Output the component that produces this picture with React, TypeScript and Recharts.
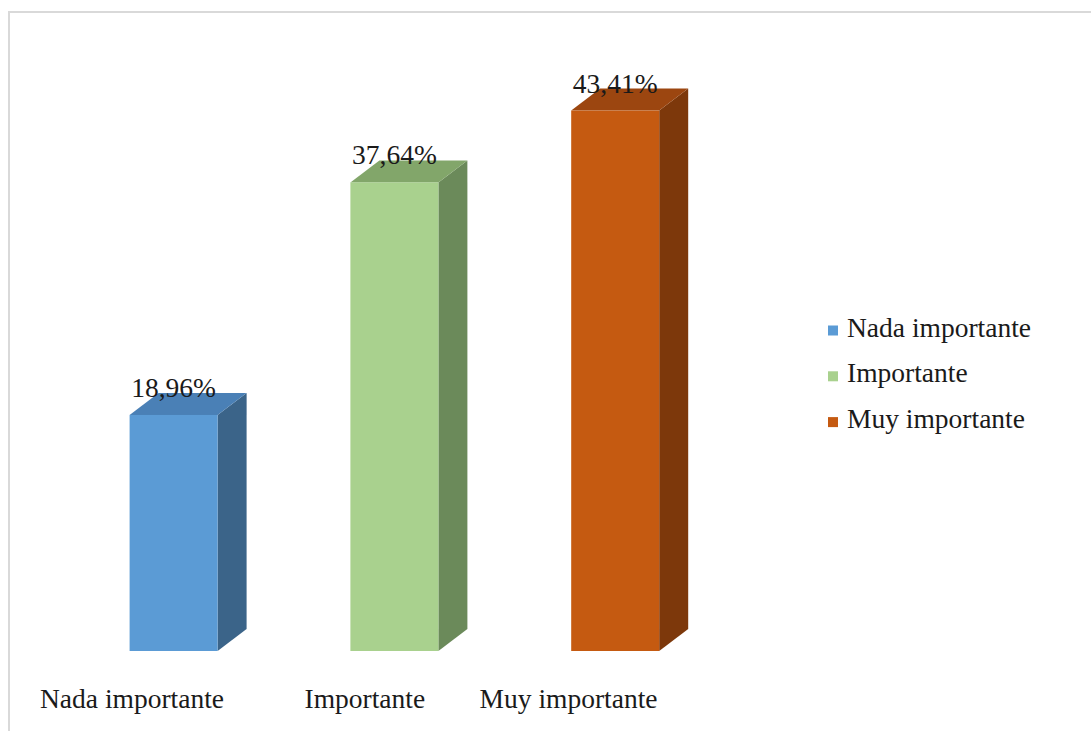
import { Bar, BarChart, LabelList, XAxis, YAxis } from 'recharts';

const categories = ['Nada importante', 'Importante', 'Muy importante'];
const percentages = [18.96, 37.64, 43.41];

const frontColors = ['#5b9bd5', '#a9d18e', '#c55a11'];
const topColors = ['#4a80b6', '#82a66a', '#9c4610'];
const sideColors = ['#3b6489', '#6b8a5a', '#7d380b'];

const FONT = '"Liberation Serif", "Times New Roman", serif';
const DEPTH_X = 29;
const DEPTH_Y = 22;
// category labels sit a bit left of their columns (3D perspective in the original)
const TICK_SHIFT = [-42, -30, -47];

const data = categories.map((name, i) => ({ name, value: percentages[i] }));

const fmtPct = (v: number) => `${v.toFixed(2).replace('.', ',')}%`;

// front face + top + side, Excel-style 3D column
const Column3D = (props: any) => {
  const { x, y, width, height, index } = props;
  const r = x + width;
  const b = y + height;
  return (
    <g>
      <polygon
        points={`${r},${y} ${r + DEPTH_X},${y - DEPTH_Y} ${r + DEPTH_X},${b - DEPTH_Y} ${r},${b}`}
        fill={sideColors[index]}
      />
      <polygon
        points={`${x},${y} ${x + DEPTH_X},${y - DEPTH_Y} ${r + DEPTH_X},${y - DEPTH_Y} ${r},${y}`}
        fill={topColors[index]}
      />
      <rect x={x} y={y} width={width} height={height} fill={frontColors[index]} />
    </g>
  );
};

const ValueLabel = (props: any) => {
  const { x, y, width, value } = props;
  return (
    <text x={x + width / 2} y={y - 18} textAnchor="middle" fontFamily={FONT} fontSize={27.5} fill="#1a1a1a">
      {fmtPct(value)}
    </text>
  );
};

const CategoryTick = (props: any) => {
  const { x, y, payload, index } = props;
  return (
    <text x={x + (TICK_SHIFT[index] ?? -40)} y={y + 57} textAnchor="middle" fontFamily={FONT} fontSize={27.5} fill="#1a1a1a">
      {payload.value}
    </text>
  );
};

// legend kept outside the chart so it doesn't eat into the plot area
const SideLegend = () => (
  <svg width={260} height={140} style={{ position: 'absolute', left: 820, top: 300 }}>
    {categories.map((name, i) => {
      const base = 36.5 + i * 45.8;
      return (
        <g key={name}>
          <rect x={8} y={base - 11} width={10} height={10} fill={frontColors[i]} />
          <text x={27} y={base} fontFamily={FONT} fontSize={27.5} fill="#1a1a1a">
            {name}
          </text>
        </g>
      );
    })}
  </svg>
);

const App = () => (
  <div style={{ position: 'fixed', left: 0, top: 0, width: 1091, height: 731, overflow: 'hidden', background: '#fff' }}>
    <div
      style={{
        position: 'absolute',
        left: 8,
        top: 11,
        width: 1100,
        height: 740,
        border: '2px solid #d9d9d9',
        boxSizing: 'border-box',
      }}
    />
    <div style={{ position: 'absolute', left: 0, top: 0 }}>
      <BarChart
        width={1091}
        height={731}
        data={data}
        margin={{ top: 28.5, right: 365, bottom: 0, left: 63.6 }}
        barSize={88}
      >
        <XAxis
          dataKey="name"
          height={80}
          axisLine={false}
          tickLine={false}
          tickSize={0}
          tickMargin={0}
          interval={0}
          tick={<CategoryTick />}
        />
        <YAxis hide domain={[0, 50]} />
        <Bar dataKey="value" shape={<Column3D />} isAnimationActive={false}>
          <LabelList dataKey="value" content={<ValueLabel />} />
        </Bar>
      </BarChart>
    </div>
    <SideLegend />
  </div>
);

export default App;
